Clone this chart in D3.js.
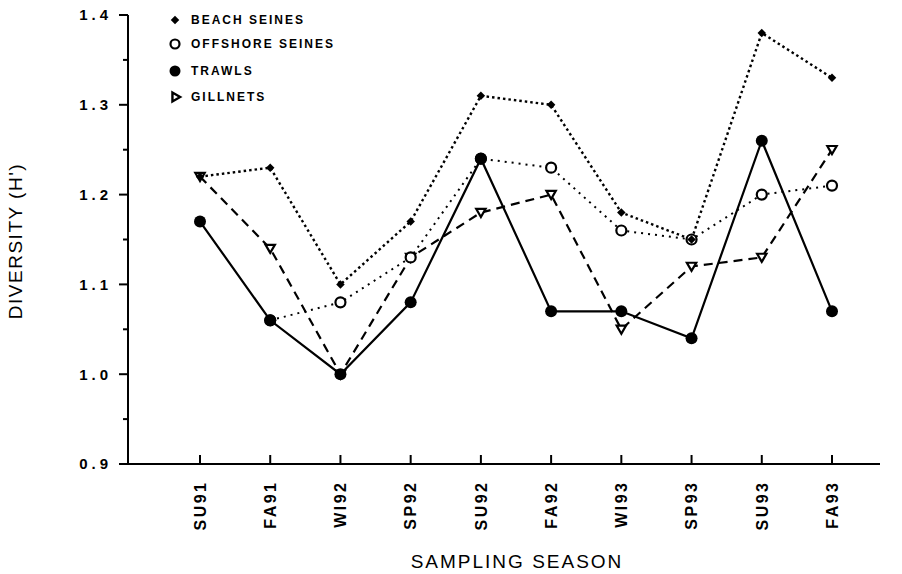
<!DOCTYPE html>
<html>
<head>
<meta charset="utf-8">
<script src="https://cdn.jsdelivr.net/npm/d3@7"></script>
<style>
  html, body { margin: 0; padding: 0; background: #fff; }
  svg { display: block; }
  text { fill: #000; font-family: "Liberation Sans", Arial, sans-serif; }
</style>
</head>
<body>
<svg id="chart" width="902" height="574"></svg>
<script>
// Sampling seasons (x categories)
const seasons = ["SU91", "FA91", "WI92", "SP92", "SU92", "FA92", "WI93", "SP93", "SU93", "FA93"];

// Shannon diversity H' per gear type
const beachSeines    = [1.22, 1.23, 1.10, 1.17, 1.31, 1.30, 1.18, 1.15, 1.38, 1.33];
const offshoreSeines = [null, 1.06, 1.08, 1.13, 1.24, 1.23, 1.16, 1.15, 1.20, 1.21];
const trawls         = [1.17, 1.06, 1.00, 1.08, 1.24, 1.07, 1.07, 1.04, 1.26, 1.07];
const gillnets       = [1.22, 1.14, 1.00, 1.13, 1.18, 1.20, 1.05, 1.12, 1.13, 1.25];

// Y axis ticks
const yTicks = [0.9, 1.0, 1.1, 1.2, 1.3, 1.4];
const yMinorTicks = [0.95, 1.05, 1.15, 1.25, 1.35];
const yTickLabels = ["0.9", "1.0", "1.1", "1.2", "1.3", "1.4"];

const seriesNames = ["BEACH SEINES", "OFFSHORE SEINES", "TRAWLS", "GILLNETS"];

const svg = d3.select("#chart");

const x = d3.scalePoint().domain(seasons).range([200, 832]);
const y = d3.scaleLinear().domain([0.9, 1.4]).range([464, 15]);

// ---- axes ----
const axisG = svg.append("g");
// y axis line
axisG.append("line")
  .attr("x1", 128).attr("x2", 128)
  .attr("y1", y(1.4)).attr("y2", y(0.9))
  .attr("stroke", "#000").attr("stroke-width", 2);
// x axis line
axisG.append("line")
  .attr("x1", 119).attr("x2", 880)
  .attr("y1", y(0.9)).attr("y2", y(0.9))
  .attr("stroke", "#000").attr("stroke-width", 2);

// y major ticks
axisG.selectAll(".ytick").data(yTicks).join("line")
  .attr("x1", 119).attr("x2", 128)
  .attr("y1", d => y(d)).attr("y2", d => y(d))
  .attr("stroke", "#000").attr("stroke-width", 2);
// y minor ticks
axisG.selectAll(".yminor").data(yMinorTicks).join("line")
  .attr("x1", 123).attr("x2", 128)
  .attr("y1", d => y(d)).attr("y2", d => y(d))
  .attr("stroke", "#000").attr("stroke-width", 2);
// y tick labels
axisG.selectAll(".ylab").data(yTicks).join("text")
  .attr("x", 112)
  .attr("y", d => y(d))
  .attr("dy", "0.36em")
  .attr("text-anchor", "end")
  .style("font-size", "15px")
  .style("font-weight", "bold")
  .style("letter-spacing", "4px")
  .text((d, i) => yTickLabels[i]);

// x ticks (pointing up into the plot)
axisG.selectAll(".xtick").data(seasons).join("line")
  .attr("x1", d => x(d)).attr("x2", d => x(d))
  .attr("y1", y(0.9)).attr("y2", y(0.9) - 9)
  .attr("stroke", "#000").attr("stroke-width", 2);
// x tick labels, rotated
axisG.selectAll(".xlab").data(seasons).join("text")
  .attr("transform", d => `translate(${x(d)},483) rotate(-90)`)
  .attr("text-anchor", "end")
  .attr("dy", "0.36em")
  .attr("dx", "2.5px")
  .style("font-size", "16px")
  .style("font-weight", "bold")
  .style("letter-spacing", "2.5px")
  .text(d => d);

// axis titles
svg.append("text")
  .attr("x", 517).attr("y", 568)
  .attr("text-anchor", "middle")
  .style("font-size", "19px")
  .style("letter-spacing", "2px")
  .text("SAMPLING SEASON");

svg.append("text")
  .attr("transform", "translate(22,241) rotate(-90)")
  .attr("text-anchor", "middle")
  .style("font-size", "19px")
  .style("letter-spacing", "1.5px")
  .text("DIVERSITY (H')");

// ---- series ----
const line = d3.line()
  .defined(d => d.v !== null)
  .x(d => x(d.s))
  .y(d => y(d.v));

const toPts = arr => seasons.map((s, i) => ({ s, v: arr[i] }));

const plot = svg.append("g");

// gillnets: dashed
plot.append("path").datum(toPts(gillnets))
  .attr("d", line).attr("fill", "none")
  .attr("stroke", "#000").attr("stroke-width", 2.2)
  .attr("stroke-dasharray", "9,6");
// offshore seines: sparse dots
plot.append("path").datum(toPts(offshoreSeines))
  .attr("d", line).attr("fill", "none")
  .attr("stroke", "#000").attr("stroke-width", 2)
  .attr("stroke-dasharray", "2,5");
// beach seines: dense dots
plot.append("path").datum(toPts(beachSeines))
  .attr("d", line).attr("fill", "none")
  .attr("stroke", "#000").attr("stroke-width", 2.4)
  .attr("stroke-dasharray", "2.5,3");
// trawls: solid
plot.append("path").datum(toPts(trawls))
  .attr("d", line).attr("fill", "none")
  .attr("stroke", "#000").attr("stroke-width", 2.2);

// markers
const triangle = d3.symbol().type(d3.symbolTriangle).size(38);
const diamond = d3.symbol().type(d3.symbolSquare).size(36);

plot.selectAll(".gill").data(toPts(gillnets).filter(d => d.v !== null)).join("path")
  .attr("d", triangle)
  .attr("transform", d => `translate(${x(d.s)},${y(d.v) - 1}) rotate(180)`)
  .attr("fill", "#fff").attr("stroke", "#000").attr("stroke-width", 2.2);

plot.selectAll(".off").data(toPts(offshoreSeines).filter(d => d.v !== null)).join("circle")
  .attr("cx", d => x(d.s)).attr("cy", d => y(d.v)).attr("r", 5)
  .attr("fill", "#fff").attr("stroke", "#000").attr("stroke-width", 2.2);

plot.selectAll(".beach").data(toPts(beachSeines)).join("path")
  .attr("d", diamond)
  .attr("transform", d => `translate(${x(d.s)},${y(d.v)}) rotate(45)`)
  .attr("fill", "#000");

plot.selectAll(".trawl").data(toPts(trawls)).join("circle")
  .attr("cx", d => x(d.s)).attr("cy", d => y(d.v)).attr("r", 6)
  .attr("fill", "#000");

// ---- legend ----
const legendY = [20, 44, 71, 97];
const lg = svg.append("g");
// beach seines diamond
lg.append("path").attr("d", diamond)
  .attr("transform", `translate(175,${legendY[0]}) rotate(45)`).attr("fill", "#000");
// offshore seines open circle
lg.append("circle").attr("cx", 175).attr("cy", legendY[1]).attr("r", 4.5)
  .attr("fill", "#fff").attr("stroke", "#000").attr("stroke-width", 2.2);
// trawls filled circle
lg.append("circle").attr("cx", 175).attr("cy", legendY[2]).attr("r", 5.5)
  .attr("fill", "#000");
// gillnets triangle (pointing right)
lg.append("path").attr("d", d3.symbol().type(d3.symbolTriangle).size(34))
  .attr("transform", `translate(175,${legendY[3]}) rotate(90)`)
  .attr("fill", "#fff").attr("stroke", "#000").attr("stroke-width", 2.4);

lg.selectAll(".ltext").data(seriesNames).join("text")
  .attr("x", 191)
  .attr("y", (d, i) => legendY[i])
  .attr("dy", "0.36em")
  .style("font-size", "12px")
  .style("font-weight", "bold")
  .style("letter-spacing", "2px")
  .text(d => d);
</script>
</body>
</html>
